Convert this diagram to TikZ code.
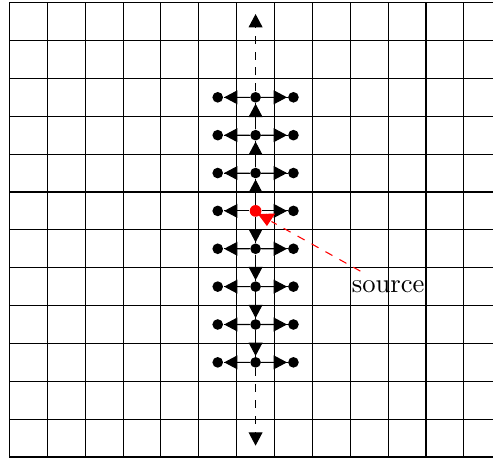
\documentclass[tikz,border=0pt]{standalone}
\usepackage{tikz}
\usetikzlibrary{
	arrows.meta,
	calc
}
\tikzset{
	dot/.style={circle, fill, inner sep=0pt, minimum size=4pt},
	flow/.style={-{Triangle[length=5pt,width=5.2pt]}}
}

\begin{document}
\begin{tikzpicture}[scale=0.5]
		\useasboundingbox (-6.75,-6.55) rectangle (6.27,5.57);
		\clip (-6.75,-6.55) rectangle (6.27,5.57);
		
		% 网格
		\foreach \i in {-6,...,6} {
			\draw ({\i-0.5},-6.5) -- ({\i-0.5},5.5);
			\draw (-6.5,{\i-0.5}) -- (6.5,{\i-0.5});
		}
		
		% 格点
		\foreach \y in {3,2,...,-4} {
			\node[dot] (l\y) at (-1,\y) {};
			\node[dot] (r\y) at (1,\y) {};
		}
		\foreach \y in {3,2,1,-1,-2,-3,-4}
			\node[dot] (c\y) at (0,\y) {};
		\node[dot, red, minimum size=4.4pt] (c0) at (0,0) {};
		
		% 横向
		\foreach \y in {3,2,...,-4} {
			\draw (c\y) -- (l\y);
			\draw (c\y) -- (r\y);
			\draw[flow] (c\y) -- ($(c\y)!0.83!(l\y)$);
			\draw[flow] (c\y) -- ($(c\y)!0.83!(r\y)$);
		}
		
		% 纵向
		\foreach \y/\z in {0/1,1/2,2/3,0/-1,-1/-2,-2/-3,-3/-4} {
			\draw (c\y) -- (c\z);
			\draw[flow] (c\y) -- ($(c\y)!0.83!(c\z)$);
		}
		\coordinate (up) at (0,5.2);
		\coordinate (down) at (0,-6.2);
		\draw[dashed, flow] (c3) -- (up);
		\draw[dashed, flow] (c-4) -- (down);
		
		% source
		\node (source) at (3.5,-2) {source};
		\coordinate (hit) at (0.42,-0.28);
		\coordinate (rtop) at (0.29,-0.08);
		\coordinate (rtip) at (0.3,-0.4);
		\draw[red, dashed] (source) -- (hit);
		\draw[red, -{Triangle[length=4.6pt,width=6.4pt]}] (rtop) -- (rtip);
		
	\end{tikzpicture}
\end{document}
